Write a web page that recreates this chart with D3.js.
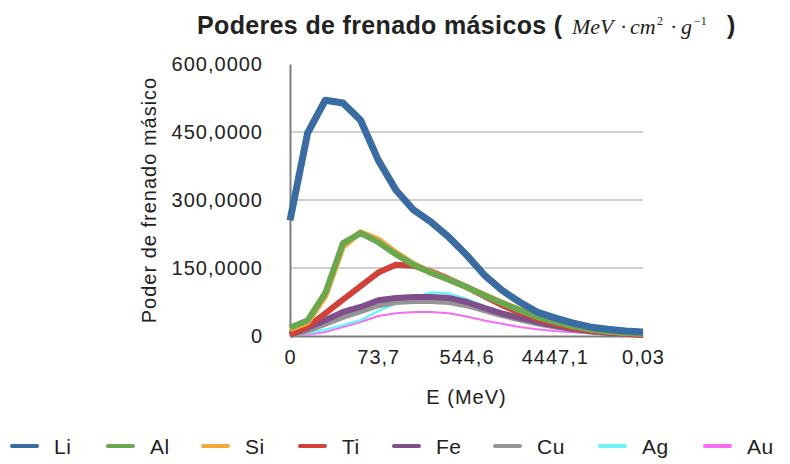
<!DOCTYPE html>
<html>
<head>
<meta charset="utf-8">
<script src="https://cdn.jsdelivr.net/npm/d3@7"></script>
<style>
  body { margin: 0; background: #fff; }
  text { font-family: "Liberation Sans", Arial, sans-serif; fill: #222; }
</style>
</head>
<body>
<div id="chart-area"></div>
<script>
// Data (21 energy steps, only every 5th labelled)
let categories = d3.range(21)
let tickIndex = [0, 5, 10, 15, 20]
let tickLabels = ['0', '73,7', '544,6', '4447,1', '0,03']
let yTicks = [0, 150, 300, 450, 600]
let yTickLabels = ['0', '150,0000', '300,0000', '450,0000', '600,0000']

let names = ['Li', 'Al', 'Si', 'Ti', 'Fe', 'Cu', 'Ag', 'Au']
let li = [255, 448, 520, 514, 476, 388, 322, 278, 251, 218, 179, 135, 101, 75, 53, 40, 29, 20, 15, 11, 9]
let al = [18, 35, 95, 205, 227, 207, 180, 157, 139, 124, 108, 90, 73, 57, 42, 31, 22, 15, 10, 7, 5]
let si = [15, 30, 88, 197, 229, 213, 184, 159, 140, 124, 108, 91, 74, 58, 43, 32, 22, 15, 10, 7, 5]
let ti = [4, 20, 50, 80, 110, 140, 157, 155, 142, 126, 108, 88, 68, 52, 38, 27, 18, 12, 8, 5, 3]
let fe = [3, 18, 35, 53, 64, 79, 84, 86, 86, 84, 75, 62, 50, 40, 31, 23, 16, 11, 7, 5, 3]
let cu = [2, 12, 27, 42, 55, 68, 75, 77, 77, 75, 68, 57, 46, 37, 28, 21, 15, 10, 7, 5, 3]
let ag = [1, 6, 14, 24, 35, 55, 72, 84, 96, 94, 82, 66, 52, 40, 30, 22, 16, 11, 7, 5, 3]
let au = [1, 3, 9, 20, 31, 44, 50, 53, 53, 50, 43, 34, 27, 20, 15, 11, 8, 6, 4, 3, 2]

let seriesValues = [li, al, si, ti, fe, cu, ag, au]
let colors = ['#3a6ca3', '#6aa84f', '#f2a93b', '#d0413b', '#7f4f8c', '#959595', '#6ff3f5', '#f86cf5']
let widths = [7, 6, 6, 6, 6, 6, 2.5, 2]

let margin = { left: 290, right: 147, top: 64, bottom: 128 }
let width = 790 - margin.left - margin.right
let height = 464 - margin.top - margin.bottom

let svg = d3.select('#chart-area').append('svg')
  .attr('width', 790)
  .attr('height', 464)

let g = svg.append('g')
  .attr('transform', 'translate(' + margin.left + ', ' + margin.top + ')')

// Scales
let x = d3.scalePoint().domain(categories).range([0, width])
let y = d3.scaleLinear().domain([0, 600]).range([height, 0])

// Gridlines
g.append('g')
  .selectAll('line')
  .data(yTicks.filter((d) => d > 0 && d < 600))
  .enter().append('line')
  .attr('x1', 0)
  .attr('x2', width)
  .attr('y1', (d) => y(d))
  .attr('y2', (d) => y(d))
  .attr('stroke', '#cfcfcf')
  .attr('stroke-width', 2)

// Axes
let yAxis = g.append('g')
  .call(d3.axisLeft(y).tickValues(yTicks).tickSize(0).tickPadding(27)
    .tickFormat((d, i) => yTickLabels[i]))
yAxis.select('.domain').attr('stroke', '#7d7d7d').attr('stroke-width', 2)
yAxis.selectAll('text').style('font-size', '20px').style('letter-spacing', '1px').attr('fill', '#222')
  .style('font-family', '"Liberation Sans", Arial, sans-serif')

let xAxis = g.append('g')
  .attr('transform', 'translate(0, ' + height + ')')
  .call(d3.axisBottom(x).tickValues(tickIndex).tickSize(0).tickPadding(14)
    .tickFormat((d, i) => tickLabels[i]))
xAxis.select('.domain').attr('stroke', '#7d7d7d').attr('stroke-width', 2)
xAxis.selectAll('text').style('font-size', '20px').style('letter-spacing', '1px').attr('fill', '#222')
  .style('font-family', '"Liberation Sans", Arial, sans-serif')

// Lines (last series first, so Li ends on top)
let line = d3.line()
  .x((d, i) => x(categories[i]))
  .y((d) => y(d))

let order = d3.range(names.length).reverse()
g.append('g')
  .selectAll('path')
  .data(order)
  .enter().append('path')
  .attr('fill', 'none')
  .attr('stroke', (k) => colors[k])
  .attr('stroke-width', (k) => widths[k])
  .attr('stroke-linejoin', 'round')
  .attr('d', (k) => line(seriesValues[k]))

// Axis titles
svg.append('text')
  .attr('transform', 'translate(156, ' + (margin.top + height / 2) + ') rotate(-90)')
  .attr('text-anchor', 'middle')
  .style('font-size', '20px')
  .style('letter-spacing', '1px')
  .text('Poder de frenado másico')

svg.append('text')
  .attr('x', margin.left + width / 2)
  .attr('y', 404)
  .attr('text-anchor', 'middle')
  .style('font-size', '20px')
  .style('letter-spacing', '1px')
  .text('E (MeV)')

// Title with the unit in math italics
svg.append('text')
  .attr('x', 197)
  .attr('y', 34)
  .style('font-size', '25px')
  .style('font-weight', 'bold')
  .style('letter-spacing', '0.35px')
  .text('Poderes de frenado másicos (')

let unit = svg.append('text')
  .attr('y', 34)
  .style('font-family', '"Liberation Serif", "Times New Roman", serif')
  .style('font-style', 'italic')
  .style('font-size', '22px')
unit.append('tspan').attr('x', 572).text('MeV')
unit.append('tspan').attr('x', 620).style('font-style', 'normal').text('·')
unit.append('tspan').attr('x', 630).text('cm')
unit.append('tspan').attr('x', 657).attr('dy', -9).style('font-size', '12px').style('font-style', 'normal').text('2')
unit.append('tspan').attr('x', 670).attr('dy', 9).style('font-style', 'normal').text('·')
unit.append('tspan').attr('x', 681).text('g')
unit.append('tspan').attr('x', 694).attr('dy', -9).style('font-size', '12px').style('font-style', 'normal').text('−1')

svg.append('text')
  .attr('x', 727)
  .attr('y', 34)
  .style('font-size', '25px')
  .style('font-weight', 'bold')
  .text(')')

// Legend
let legendX = [12, 108, 203, 300, 394, 495, 600, 705]
let legend = svg.append('g')
  .selectAll('g')
  .data(names)
  .enter().append('g')
  .attr('transform', (d, i) => 'translate(' + legendX[i] + ', 446)')
legend.append('line')
  .attr('x1', 0)
  .attr('x2', 25)
  .attr('stroke', (d, i) => colors[i])
  .attr('stroke-width', 4)
  .attr('stroke-linecap', 'round')
legend.append('text')
  .attr('x', 42)
  .attr('dy', '0.36em')
  .style('font-size', '21px')
  .style('letter-spacing', '0.5px')
  .text((d) => d)
</script>
</body>
</html>
